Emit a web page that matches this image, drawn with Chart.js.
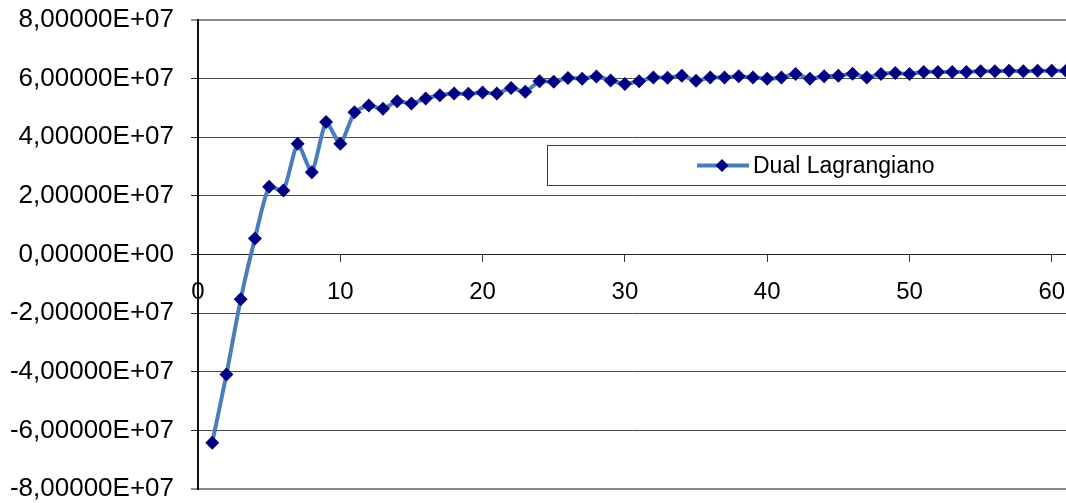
<!DOCTYPE html>
<html>
<head>
<meta charset="utf-8">
<script src="https://cdn.jsdelivr.net/npm/chart.js@4/dist/chart.umd.min.js"></script>
<style>
  html, body { margin: 0; padding: 0; background: #ffffff; }
  #wrap { width: 1066px; height: 503px; }
</style>
</head>
<body>
<div id="wrap"><canvas id="c" width="1066" height="503"></canvas></div>
<script>
// Iteration number and value of the Lagrangian dual at each iteration
const iterations = [
   1,  2,  3,  4,  5,  6,  7,  8,  9, 10,
  11, 12, 13, 14, 15, 16, 17, 18, 19, 20,
  21, 22, 23, 24, 25, 26, 27, 28, 29, 30,
  31, 32, 33, 34, 35, 36, 37, 38, 39, 40,
  41, 42, 43, 44, 45, 46, 47, 48, 49, 50,
  51, 52, 53, 54, 55, 56, 57, 58, 59, 60, 61
];
const dualValues = [
  -6.42e7, -4.09e7, -1.53e7, 0.545e7, 2.31e7, 2.18e7, 3.78e7, 2.81e7, 4.52e7, 3.78e7,
  4.85e7, 5.08e7, 4.97e7, 5.23e7, 5.15e7, 5.32e7, 5.43e7, 5.49e7, 5.48e7, 5.53e7,
  5.49e7, 5.68e7, 5.55e7, 5.91e7, 5.89e7, 6.02e7, 6.00e7, 6.07e7, 5.94e7, 5.82e7,
  5.91e7, 6.04e7, 6.03e7, 6.10e7, 5.93e7, 6.04e7, 6.04e7, 6.08e7, 6.04e7, 6.00e7,
  6.04e7, 6.16e7, 6.00e7, 6.08e7, 6.10e7, 6.17e7, 6.04e7, 6.16e7, 6.19e7, 6.16e7,
  6.23e7, 6.23e7, 6.23e7, 6.23e7, 6.25e7, 6.25e7, 6.27e7, 6.25e7, 6.27e7, 6.27e7, 6.27e7
];
const seriesName = 'Dual Lagrangiano';
const xTickValues = [0, 10, 20, 30, 40, 50, 60];
const yTickValues = [-8e7, -6e7, -4e7, -2e7, 0, 2e7, 4e7, 6e7, 8e7];

const FONT = "'Liberation Sans', Arial, sans-serif";

// Scientific notation with a decimal comma, e.g. 8,00000E+07
function sciComma(v) {
  if (v === 0) return '0,00000E+00';
  const parts = v.toExponential(5).split('e');
  const mant = parts[0].replace('.', ',');
  const exp = parseInt(parts[1], 10);
  const sign = exp < 0 ? '-' : '+';
  const digits = String(Math.abs(exp)).padStart(2, '0');
  return mant + 'E' + sign + digits;
}

// Boxed legend drawn inside the plot area
const boxedLegend = {
  id: 'boxedLegend',
  afterDraw(chart) {
    const ctx = chart.ctx;
    const ds = chart.data.datasets[0];
    ctx.save();
    ctx.fillStyle = '#ffffff';
    ctx.strokeStyle = '#3a3a3a';
    ctx.lineWidth = 1;
    ctx.fillRect(547.5, 145.5, 530, 40);
    ctx.strokeRect(547.5, 145.5, 530, 40);
    const cy = 165.5;
    ctx.strokeStyle = ds.borderColor;
    ctx.lineWidth = 4;
    ctx.lineCap = 'butt';
    ctx.beginPath();
    ctx.moveTo(697, cy);
    ctx.lineTo(749, cy);
    ctx.stroke();
    const r = 6.5;
    ctx.fillStyle = ds.pointBackgroundColor;
    ctx.beginPath();
    ctx.moveTo(722 - r, cy);
    ctx.lineTo(722, cy - r);
    ctx.lineTo(722 + r, cy);
    ctx.lineTo(722, cy + r);
    ctx.closePath();
    ctx.fill();
    ctx.fillStyle = '#000000';
    ctx.font = '23px ' + FONT;
    ctx.textBaseline = 'middle';
    ctx.textAlign = 'left';
    ctx.fillText(ds.label, 753, cy + 1);
    ctx.restore();
  }
};

const whiteBg = {
  id: 'whiteBg',
  beforeDraw(chart) {
    const ctx = chart.ctx;
    ctx.save();
    ctx.fillStyle = '#ffffff';
    ctx.fillRect(0, 0, chart.width, chart.height);
    ctx.restore();
  }
};

const isEdge = v => v === -8e7 || v === 8e7;

new Chart(document.getElementById('c'), {
  type: 'line',
  data: {
    datasets: [{
      label: seriesName,
      data: iterations.map((x, i) => ({ x: x, y: dualValues[i] })),
      borderColor: '#4a7ebb',
      borderWidth: 4,
      tension: 0.2,
      pointStyle: 'rectRot',
      pointRadius: 7,
      pointBorderWidth: 0,
      pointBackgroundColor: '#000080',
      pointBorderColor: '#000080',
      clip: false
    }]
  },
  options: {
    responsive: false,
    animation: false,
    events: [],
    layout: { autoPadding: false, padding: { top: 20, bottom: 14, left: 0, right: 0 } },
    plugins: {
      legend: { display: false },
      tooltip: { enabled: false }
    },
    scales: {
      x: {
        type: 'linear',
        min: 0,
        max: 61,
        position: { y: 0 },
        afterBuildTicks(scale) {
          scale.ticks = xTickValues.map(v => ({ value: v }));
        },
        afterFit(scale) {
          scale.paddingLeft = 0;
          scale.paddingRight = 0;
        },
        grid: {
          drawOnChartArea: false,
          drawTicks: true,
          tickLength: 7,
          tickColor: '#333333',
          tickWidth: 1
        },
        border: { display: true, color: '#222222', width: 1 },
        ticks: {
          color: '#000000',
          font: { family: FONT, size: 24 },
          padding: 16,
          maxRotation: 0,
          autoSkip: false,
          callback: v => String(v)
        }
      },
      y: {
        type: 'linear',
        min: -8e7,
        max: 8e7,
        afterBuildTicks(scale) {
          scale.ticks = yTickValues.map(v => ({ value: v }));
        },
        afterFit(scale) {
          scale.width = 198;
          scale.paddingTop = 0;
          scale.paddingBottom = 0;
        },
        grid: {
          color: ctx => (ctx.tick && isEdge(ctx.tick.value)) ? '#8a8a8a' : '#4d4d4d',
          lineWidth: ctx => (ctx.tick && isEdge(ctx.tick.value)) ? 2 : 1,
          drawTicks: true,
          tickLength: 7,
          tickColor: '#222222',
          tickWidth: 1
        },
        border: { display: true, color: '#111111', width: 2 },
        ticks: {
          color: '#000000',
          font: { family: FONT, size: 26 },
          padding: 17,
          autoSkip: false,
          callback: v => sciComma(v)
        }
      }
    }
  },
  plugins: [whiteBg, boxedLegend]
});
</script>
</body>
</html>
